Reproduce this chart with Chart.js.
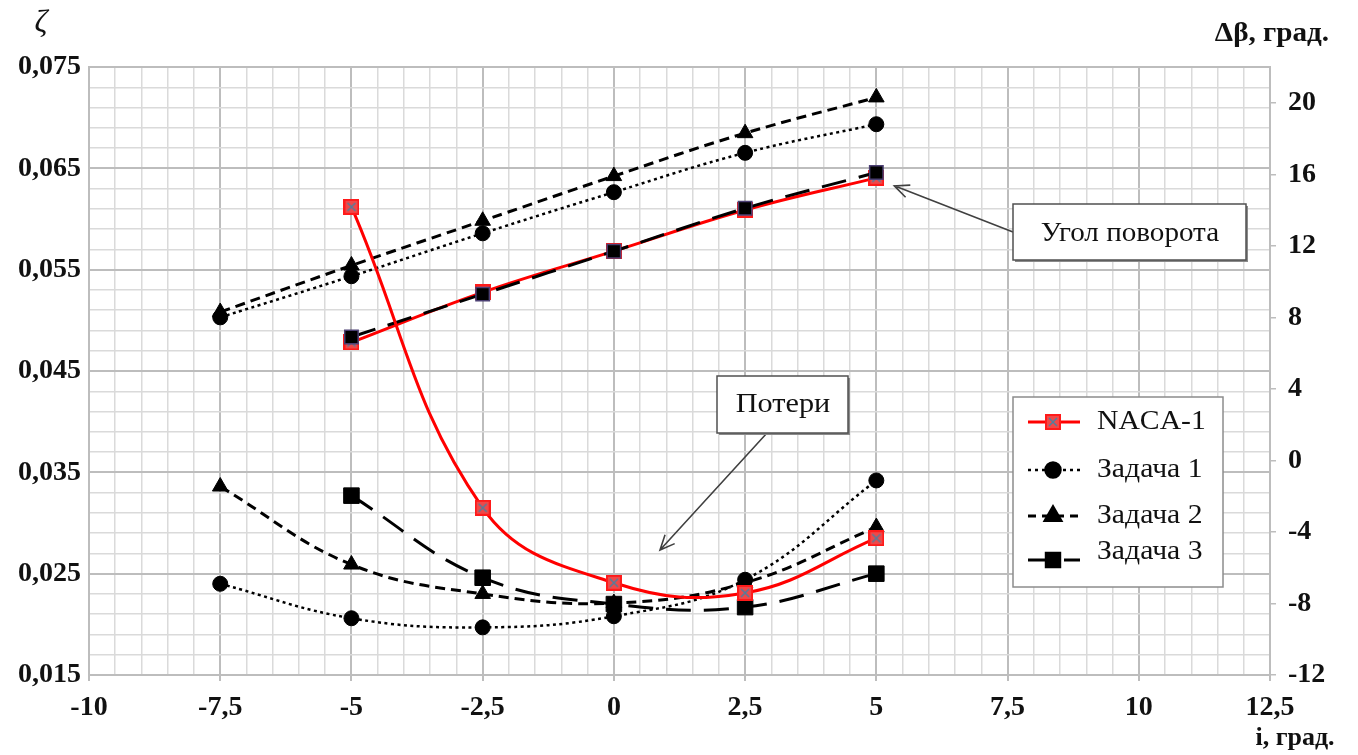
<!DOCTYPE html>
<html>
<head>
<meta charset="utf-8">
<script src="https://cdn.jsdelivr.net/npm/chart.js@4.4.1/dist/chart.umd.min.js"></script>
<style>
  html, body { margin: 0; padding: 0; background: #fff; }
  #wrap { width: 1358px; height: 755px; }
</style>
</head>
<body>
<div id="wrap"><canvas id="c" width="1358" height="755"></canvas></div>
<script>
// incidence angle i, deg
const incidence = [-7.5, -5, -2.5, 0, 2.5, 5];

// losses ζ (left axis)
const lossNaca = [null, 0.0612, 0.0315, 0.0241, 0.0231, 0.0285];
const lossTask1 = [0.0240, 0.0206, 0.0197, 0.0208, 0.0244, 0.0342];
const lossTask2 = [0.0336, 0.0259, 0.0230, 0.0221, 0.0241, 0.0296];
const lossTask3 = [null, 0.0327, 0.0246, 0.0220, 0.0217, 0.0250];

// turning angle Δβ, deg (right axis)
const turnNaca = [null, 6.6, 9.4, 11.7, 14.0, 15.8];
const turnTask1 = [8.0, 10.3, 12.7, 15.0, 17.2, 18.8];
const turnTask2 = [8.3, 10.9, 13.4, 15.9, 18.3, 20.3];
const turnTask3 = [null, 6.9, 9.3, 11.7, 14.1, 16.1];

const rightTicks = [-12, -8, -4, 0, 4, 8, 12, 16, 20];
const seriesNames = ['NACA-1', 'Задача 1', 'Задача 2', 'Задача 3'];

const SERIF = '"Liberation Serif", "Times New Roman", serif';

function pts(arr) {
  return incidence.map((x, i) => ({ x, y: arr[i] })).filter(p => p.y !== null);
}

function nacaMarker() {
  const c = document.createElement('canvas');
  c.width = 16; c.height = 16;
  const g = c.getContext('2d');
  g.fillStyle = '#f04848';
  g.fillRect(0, 0, 16, 16);
  g.strokeStyle = '#ff1a1a';
  g.lineWidth = 2;
  g.strokeRect(1, 1, 14, 14);
  g.strokeStyle = '#4f7f9f';
  g.lineWidth = 1.5;
  g.beginPath();
  g.moveTo(4, 4); g.lineTo(12, 12);
  g.moveTo(12, 4); g.lineTo(4, 12);
  g.stroke();
  return c;
}
const nacaImg = nacaMarker();

const styles = [
  { color: '#ff0000', width: 3, dash: [], point: nacaImg, radius: 8 },
  { color: '#000', width: 2.5, dash: [3, 3.5], point: 'circle', radius: 7.5 },
  { color: '#000', width: 3, dash: [10, 6], point: 'triangle', radius: 9 },
  { color: '#000', width: 3, dash: [25, 13], point: 'rect', radius: 11 },
];

function makeSet(label, arr, s, axis, order) {
  return {
    label,
    data: pts(arr),
    yAxisID: axis,
    borderColor: s.color,
    borderWidth: s.width,
    borderDash: s.dash,
    pointStyle: s.point,
    pointRadius: s.radius,
    pointBackgroundColor: '#000',
    pointBorderColor: '#000',
    pointBorderWidth: 1,
    tension: 0.4,
    fill: false,
    order,
  };
}

const datasets = [
  makeSet('NACA-1', lossNaca, styles[0], 'y', 1),
  makeSet('Задача 1', lossTask1, styles[1], 'y', 2),
  makeSet('Задача 2', lossTask2, styles[2], 'y', 3),
  makeSet('Задача 3', lossTask3, styles[3], 'y', 4),
  makeSet('NACA-1 Δβ', turnNaca, styles[0], 'y2', 8),
  makeSet('Задача 1 Δβ', turnTask1, styles[1], 'y2', 6),
  makeSet('Задача 2 Δβ', turnTask2, styles[2], 'y2', 5),
  makeSet('Задача 3 Δβ', turnTask3, styles[3], 'y2', 7),
];
datasets[7].pointRadius = 9.5;
datasets[7].pointBorderColor = '#4b3f72';
datasets[7].pointBorderWidth = 1.5;

function isMajor(v, base, step) {
  const k = (v - base) / step;
  return Math.abs(k - Math.round(k)) < 1e-6;
}

function drawText(ctx, txt, x, y, font, align, sx) {
  ctx.save();
  ctx.translate(x, y);
  ctx.scale(sx || 1, 1);
  ctx.font = font;
  ctx.textAlign = align || 'left';
  ctx.textBaseline = 'middle';
  ctx.fillStyle = '#111';
  ctx.fillText(txt, 0, 0);
  ctx.restore();
}

function arrow(ctx, x1, y1, x2, y2) {
  const a = Math.atan2(y2 - y1, x2 - x1);
  const h = 16, w = 0.42;
  ctx.save();
  ctx.strokeStyle = '#404040';
  ctx.lineWidth = 1.6;
  ctx.beginPath();
  ctx.moveTo(x1, y1); ctx.lineTo(x2, y2);
  ctx.moveTo(x2 - h * Math.cos(a - w), y2 - h * Math.sin(a - w));
  ctx.lineTo(x2, y2);
  ctx.lineTo(x2 - h * Math.cos(a + w), y2 - h * Math.sin(a + w));
  ctx.stroke();
  ctx.restore();
}

function box(ctx, x, y, w, h) {
  ctx.save();
  ctx.fillStyle = '#8a8a8a';
  ctx.fillRect(x + 2, y + 2, w, h);
  ctx.fillStyle = '#fff';
  ctx.fillRect(x, y, w, h);
  ctx.strokeStyle = '#505050';
  ctx.lineWidth = 1.5;
  ctx.strokeRect(x, y, w, h);
  ctx.restore();
}

const decorPlugin = {
  id: 'decor',
  afterDraw(chart) {
    const ctx = chart.ctx;
    const xs = chart.scales.x, ys = chart.scales.y, y2 = chart.scales.y2;

    // axis titles
    drawText(ctx, 'ζ', 41, 24, 'italic 32px ' + SERIF, 'center');
    drawText(ctx, 'Δβ, град.', 1272, 34, 'bold 27px ' + SERIF, 'center', 1.08);
    drawText(ctx, 'i, град.', 1295, 738, 'bold 26px ' + SERIF, 'center', 1.0);

    // annotation: turning angle
    const ax = xs.getPixelForValue(5), ay = y2.getPixelForValue(turnNaca[5]);
    arrow(ctx, 1013, 232, ax + 18, ay + 8);
    box(ctx, 1013, 204, 233, 56);
    drawText(ctx, 'Угол поворота', 1130, 234, '28px ' + SERIF, 'center', 1.04);

    // annotation: losses
    arrow(ctx, 767, 433, 660, 550);
    box(ctx, 717, 376, 131, 57);
    drawText(ctx, 'Потери', 783, 405, '28px ' + SERIF, 'center', 1.08);

    // legend
    const lx = 1013, ly = 397, lw = 210, lh = 190;
    ctx.save();
    ctx.fillStyle = '#fff';
    ctx.fillRect(lx, ly, lw, lh);
    ctx.strokeStyle = '#8c8c8c';
    ctx.lineWidth = 1.5;
    ctx.strokeRect(lx, ly, lw, lh);
    ctx.restore();
    const rows = [422, 470, 516, 560];
    seriesNames.forEach((name, i) => {
      const s = styles[i];
      const yy = rows[i];
      ctx.save();
      ctx.strokeStyle = s.color;
      ctx.lineWidth = s.width;
      ctx.setLineDash(i === 1 ? [3, 4] : i === 2 ? [8, 6] : i === 3 ? [22, 14] : []);
      ctx.beginPath();
      ctx.moveTo(1028, yy); ctx.lineTo(1080, yy);
      ctx.stroke();
      ctx.setLineDash([]);
      if (i === 0) {
        ctx.drawImage(nacaImg, 1053 - 8, yy - 8);
      } else {
        ctx.fillStyle = '#000';
        ctx.strokeStyle = '#000';
        Chart.helpers.drawPoint(ctx, { pointStyle: s.point, radius: s.radius - (i === 3 ? 1.5 : 0), borderWidth: 1, rotation: 0 }, 1053, yy);
      }
      ctx.restore();
      drawText(ctx, name, 1097, i === 3 ? yy - 8 : yy, '28px ' + SERIF, 'left', 1.06);
    });
  }
};

new Chart(document.getElementById('c'), {
  type: 'line',
  data: { datasets },
  plugins: [decorPlugin],
  options: {
    responsive: false,
    devicePixelRatio: 1,
    animation: false,
    layout: { padding: { top: 67, left: 0, right: 0, bottom: 0 } },
    plugins: { legend: { display: false }, tooltip: { enabled: false } },
    scales: {
      x: {
        type: 'linear',
        min: -10, max: 12.5,
        afterFit(s) { s.height = 80; },
        ticks: {
          stepSize: 0.5,
          autoSkip: false,
          maxRotation: 0,
          padding: 10,
          color: '#111',
          font: { family: SERIF, size: 28, weight: 'bold' },
          callback: v => isMajor(v, 0, 2.5) ? String(v).replace('.', ',') : '',
        },
        grid: {
          color: c => isMajor(c.tick.value, 0, 2.5) ? '#bdbdbd' : '#dadada',
          lineWidth: c => isMajor(c.tick.value, 0, 2.5) ? 2 : 1.5,
          tickColor: c => isMajor(c.tick.value, 0, 2.5) ? '#bdbdbd' : 'rgba(0,0,0,0)',
          tickLength: 6,
        },
        border: { color: '#bdbdbd', width: 2 },
      },
      y: {
        position: 'left',
        min: 0.015, max: 0.075,
        afterFit(s) { s.width = 89; },
        ticks: {
          stepSize: 0.002,
          autoSkip: false,
          padding: 8,
          color: '#111',
          font: { family: SERIF, size: 28, weight: 'bold' },
          callback: v => isMajor(v, 0.015, 0.01) ? v.toFixed(3).replace('.', ',') : '',
        },
        grid: {
          drawTicks: false,
          color: c => isMajor(c.tick.value, 0.015, 0.01) ? '#bdbdbd' : '#dadada',
          lineWidth: c => isMajor(c.tick.value, 0.015, 0.01) ? 2 : 1.5,
        },
        border: { color: '#bdbdbd', width: 2 },
      },
      y2: {
        position: 'right',
        min: -12, max: 22,
        afterFit(s) { s.width = 88; },
        afterBuildTicks(s) { s.ticks = rightTicks.map(v => ({ value: v })); },
        ticks: {
          padding: 12,
          color: '#111',
          font: { family: SERIF, size: 28, weight: 'bold' },
          callback: v => String(v),
        },
        grid: { drawOnChartArea: false, color: '#bdbdbd', tickLength: 6, lineWidth: 1.5 },
        border: { color: '#bdbdbd', width: 2 },
      },
    },
  },
});
</script>
</body>
</html>
